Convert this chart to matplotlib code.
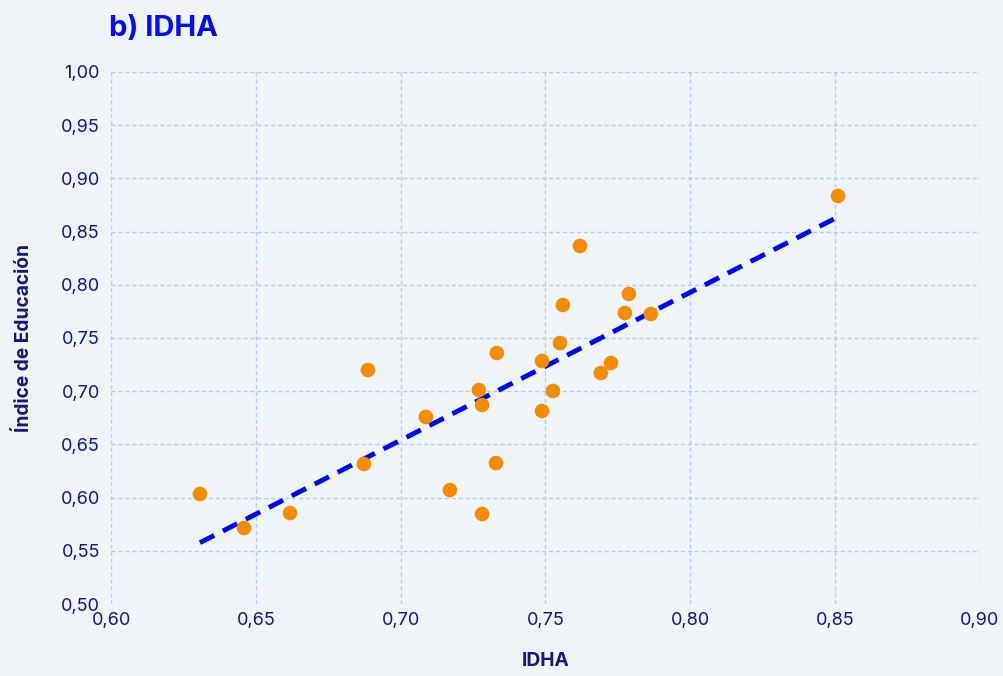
import numpy as np
import matplotlib
matplotlib.use("Agg")
import matplotlib.pyplot as plt
from matplotlib.ticker import FuncFormatter

plt.rcParams['font.family'] = ['Inter', 'DejaVu Sans']

idha = [0.6307, 0.6459, 0.6618, 0.6873, 0.6887, 0.7087, 0.7170, 0.7270, 0.7281,
        0.7281, 0.7329, 0.7332, 0.7488, 0.7488, 0.7526, 0.7550, 0.7560, 0.7619,
        0.7691, 0.7726, 0.7774, 0.7788, 0.7864, 0.8510]
educ = [0.6034, 0.5714, 0.5855, 0.6316, 0.7199, 0.6758, 0.6071, 0.7011, 0.6870,
        0.5846, 0.6325, 0.7359, 0.7284, 0.6814, 0.7002, 0.7453, 0.7810, 0.8365,
        0.7171, 0.7265, 0.7735, 0.7914, 0.7726, 0.8835]

title = "b) IDHA"
xlabel = "IDHA"
ylabel = "Índice de Educación"

bg = "#eff4f9"
navy = "#15177a"

fig = plt.figure(figsize=(10.04, 6.76), dpi=100, facecolor=bg)
ax = fig.add_axes([0.1106, 0.1065, 0.8654, 0.787])
ax.set_facecolor(bg)

x = np.array(idha)
y = np.array(educ)
m, b = np.polyfit(x, y, 1)
xs = np.array([x.min(), x.max()])
ax.plot(xs, m * xs + b, color="#0000ff", lw=3.5, linestyle=(0, (3.3, 2.0)),
        solid_capstyle='butt', dash_capstyle='butt', zorder=3)
ax.scatter(x, y, s=110, color="#f28c00", edgecolors='none', zorder=4)

ax.set_xlim(0.60, 0.90)
ax.set_ylim(0.50, 1.00)
ax.set_xticks(np.arange(0.60, 0.901, 0.05))
ax.set_yticks(np.arange(0.50, 1.001, 0.05))
fmt = FuncFormatter(lambda v, p: f"{v:.2f}".replace('.', ','))
ax.xaxis.set_major_formatter(fmt)
ax.yaxis.set_major_formatter(fmt)
ax.grid(True, color="#b3cdf0", linestyle=(0, (3, 2)), lw=1.0, zorder=0)
for s in ax.spines.values():
    s.set_visible(False)
ax.tick_params(length=0, labelsize=13, colors=navy, pad=8)
ax.tick_params(axis='x', pad=6)

ax.set_xlabel(xlabel, fontsize=13.8, fontweight='bold', color=navy, labelpad=16)
ax.set_ylabel(ylabel, fontsize=13.8, fontweight='bold', color=navy, labelpad=20)
fig.text(0.109, 0.958, title, fontsize=21, fontweight='bold', color="#0a0af5",
         ha='left', va='center')

fig.savefig("out.png", dpi=100, facecolor=bg)
